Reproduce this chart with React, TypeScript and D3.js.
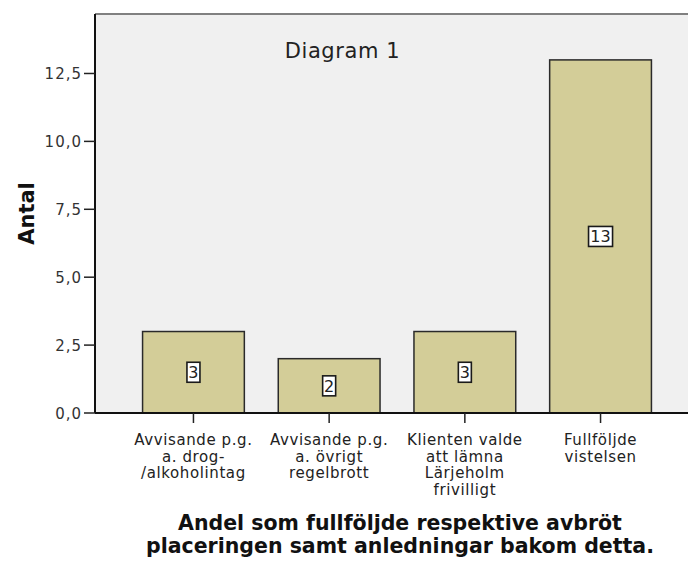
import React from "react";
import * as d3 from "d3";

const categories = [
  ["Avvisande p.g.", "a. drog-", "/alkoholintag"],
  ["Avvisande p.g.", "a. övrigt", "regelbrott"],
  ["Klienten valde", "att lämna", "Lärjeholm", "frivilligt"],
  ["Fullföljde", "vistelsen"],
];
const categoryKeys = ["drog", "regel", "frivilligt", "fullfoljde"];
const values = [3, 2, 3, 13];
const yTicks = [0, 2.5, 5, 7.5, 10, 12.5];
const chartTitle = "Diagram 1";
const yTitle = "Antal";
const xTitle = [
  "Andel som fullföljde respektive avbröt",
  "placeringen samt anledningar bakom detta.",
];

const W = 688;
const H = 561;
const plotLeft = 95;
const plotTop = 14;
const plotBottom = 413;
const plotRight = 700;
const font = "'DejaVu Sans', Verdana, sans-serif";

export default function App() {
  const y = d3.scaleLinear().domain([0, 14.69]).range([plotBottom, plotTop]);
  const x = d3
    .scaleBand<string>()
    .domain(categoryKeys)
    .range([125.6, 668.4])
    .paddingInner(0.25)
    .paddingOuter(0.125);
  const fmt = (v: number) => d3.format(".1f")(v).replace(".", ",");

  return (
    <svg
      width={W}
      height={H}
      style={{ position: "absolute", left: 0, top: 0, display: "block" }}
    >
      <rect x={0} y={0} width={W} height={H} fill="#ffffff" />
      <rect
        x={plotLeft}
        y={plotTop}
        width={plotRight - plotLeft}
        height={plotBottom - plotTop}
        fill="#f0f0f0"
      />
      <line x1={plotLeft} x2={plotRight} y1={plotTop} y2={plotTop} stroke="#808080" strokeWidth={2} />
      <text
        x={342.5}
        y={58}
        textAnchor="middle"
        fontFamily={font}
        fontSize={21}
        letterSpacing={0.6}
        fill="#222"
      >
        {chartTitle}
      </text>
      {values.map((v, i) => {
        const k = categoryKeys[i];
        const bx = x(k)!;
        const bw = x.bandwidth();
        const cy = (y(v) + y(0)) / 2;
        const label = String(v);
        const boxW = label.length * 11 + 2;
        return (
          <g key={k}>
            <rect
              x={bx}
              y={y(v)}
              width={bw}
              height={y(0) - y(v)}
              fill="#d3cd98"
              stroke="#2a2a2a"
              strokeWidth={1.5}
            />
            <rect
              x={bx + bw / 2 - boxW / 2}
              y={cy - 10}
              width={boxW}
              height={20}
              fill="#ffffff"
              stroke="#1a1a1a"
              strokeWidth={1.6}
            />
            <text
              x={bx + bw / 2}
              y={cy + 6}
              textAnchor="middle"
              fontFamily={font}
              fontSize={16}
              fill="#222"
            >
              {label}
            </text>
          </g>
        );
      })}
      {/* y axis */}
      <line x1={plotLeft} x2={plotLeft} y1={plotTop} y2={plotBottom} stroke="#111" strokeWidth={2} />
      {yTicks.map((t) => (
        <g key={t}>
          <line x1={plotLeft - 11} x2={plotLeft} y1={y(t)} y2={y(t)} stroke="#222" strokeWidth={1.5} />
          <text
            x={plotLeft - 13}
            y={y(t) + 5.5}
            textAnchor="end"
            fontFamily={font}
            fontSize={15}
            letterSpacing={1}
            fill="#333"
          >
            {fmt(t)}
          </text>
        </g>
      ))}
      {/* x axis */}
      <line x1={plotLeft} x2={plotRight} y1={plotBottom} y2={plotBottom} stroke="#111" strokeWidth={2} />
      {categoryKeys.map((k, i) => {
        const cx = x(k)! + x.bandwidth() / 2;
        return (
          <g key={k}>
            <line x1={cx} x2={cx} y1={plotBottom} y2={plotBottom + 10} stroke="#222" strokeWidth={1.5} />
            {categories[i].map((line, j) => (
              <text
                key={j}
                x={cx}
                y={445 + j * 16.5}
                textAnchor="middle"
                fontFamily={font}
                fontSize={15}
                letterSpacing={0.6}
                fill="#222"
              >
                {line}
              </text>
            ))}
          </g>
        );
      })}
      <text
        transform={`translate(34,213.5) rotate(-90)`}
        textAnchor="middle"
        fontFamily={font}
        fontSize={21}
        fontWeight="bold"
        fill="#111"
      >
        {yTitle}
      </text>
      {xTitle.map((line, j) => (
        <text
          key={j}
          x={400}
          y={530 + j * 23}
          textAnchor="middle"
          fontFamily={font}
          fontSize={20.5}
          fontWeight="bold"
          fill="#111"
        >
          {line}
        </text>
      ))}
    </svg>
  );
}
